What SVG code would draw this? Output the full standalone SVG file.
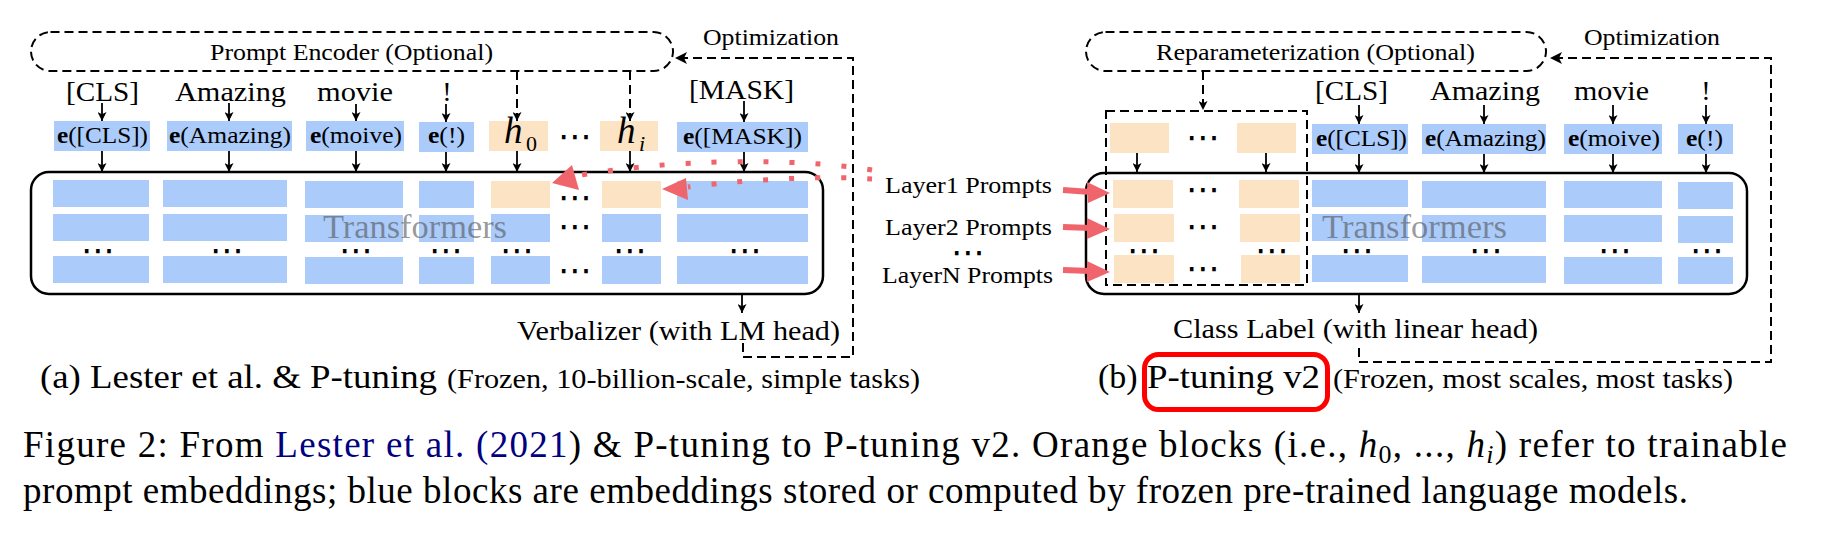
<svg xmlns="http://www.w3.org/2000/svg" width="1832" height="552" viewBox="0 0 1832 552">
<defs>
<style>
.t{font-family:"Liberation Serif","Times New Roman",serif;fill:#000}
.blue{fill:#ABCBFA}
.org{fill:#FCE3C4}
.dash{fill:none;stroke:#000;stroke-width:2;stroke-dasharray:9 5}
.ln{fill:none;stroke:#000;stroke-width:1.8}
.tf{fill:none;stroke:#000;stroke-width:2.5}
.tr{font-family:"Liberation Serif","Times New Roman",serif;font-size:33px;fill:#555;fill-opacity:0.6}
.dots{font-family:"DejaVu Sans",sans-serif;font-size:34px;text-anchor:middle;fill:#000}
.reddot{fill:none;stroke:#F0646C;stroke-width:5;stroke-dasharray:5 21}
.redfill{fill:#F0646C}
.redln{stroke:#F0646C;stroke-width:6;fill:none}
.it{font-style:italic}
.nav{fill:#000080}
</style>
<marker id="ah" viewBox="0 0 10 10" refX="10" refY="5" markerWidth="9" markerHeight="9" markerUnits="userSpaceOnUse" orient="auto"><path d="M0,0 L10,5 L0,10 L2.5,5 z" fill="#000"/></marker>
<marker id="ahL" viewBox="0 0 10 10" refX="10" refY="5" markerWidth="14" markerHeight="12" markerUnits="userSpaceOnUse" orient="auto"><path d="M0,0 L10,5 L0,10 L2.5,5 z" fill="#000"/></marker>
</defs>
<rect width="1832" height="552" fill="#fff"/>

<!-- ============ Panel (a) ============ -->
<g id="a-prompt-encoder">
<rect x="31" y="32" width="642" height="39" rx="19.5" class="dash"/>
<text class="t" x="210" y="60" font-size="24" textLength="283" lengthAdjust="spacingAndGlyphs">Prompt Encoder (Optional)</text>
</g>
<g id="a-optimization-label"><text class="t" x="703" y="45" font-size="23" textLength="136" lengthAdjust="spacingAndGlyphs">Optimization</text></g>

<g id="a-tokens">
<text class="t" x="66" y="101" font-size="28" textLength="73" lengthAdjust="spacingAndGlyphs">[CLS]</text>
<text class="t" x="175" y="101" font-size="28" textLength="111" lengthAdjust="spacingAndGlyphs">Amazing</text>
<text class="t" x="317" y="101" font-size="28" textLength="76" lengthAdjust="spacingAndGlyphs">movie</text>
<text class="t" x="447" y="101" font-size="28" text-anchor="middle">!</text>
<text class="t" x="689" y="99" font-size="28" textLength="105" lengthAdjust="spacingAndGlyphs">[MASK]</text>
</g>

<g id="a-embeddings">
<g id="a-e-cls"><rect class="blue" x="54" y="121" width="96" height="30"/><text class="t" x="57" y="143" font-size="24" textLength="91" lengthAdjust="spacingAndGlyphs"><tspan font-weight="bold">e</tspan>([CLS])</text></g>
<g id="a-e-amazing"><rect class="blue" x="167" y="121" width="125" height="30"/><text class="t" x="169" y="143" font-size="24" textLength="122" lengthAdjust="spacingAndGlyphs"><tspan font-weight="bold">e</tspan>(Amazing)</text></g>
<g id="a-e-moive"><rect class="blue" x="306" y="121" width="98" height="30"/><text class="t" x="310" y="143" font-size="24" textLength="92" lengthAdjust="spacingAndGlyphs"><tspan font-weight="bold">e</tspan>(moive)</text></g>
<g id="a-e-excl"><rect class="blue" x="419" y="122" width="55" height="30"/><text class="t" x="428" y="143" font-size="24" textLength="37" lengthAdjust="spacingAndGlyphs"><tspan font-weight="bold">e</tspan>(!)</text></g>
<g id="a-h0"><rect class="org" x="489" y="121" width="59" height="30"/><text class="t it" x="504" y="143" font-size="37">h</text><text class="t" x="526" y="151" font-size="22">0</text></g>
<text class="dots" x="575" y="148">⋯</text>
<g id="a-hi"><rect class="org" x="600" y="121" width="58" height="30"/><text class="t it" x="617" y="143" font-size="37">h</text><text class="t it" x="639" y="151" font-size="22">i</text></g>
<g id="a-e-mask"><rect class="blue" x="677" y="122" width="131" height="30"/><text class="t" x="683" y="144" font-size="24" textLength="119" lengthAdjust="spacingAndGlyphs"><tspan font-weight="bold">e</tspan>([MASK])</text></g>
</g>

<g id="a-transformer">
<g class="blue">
<rect x="53" y="180" width="96" height="27"/><rect x="53" y="214" width="96" height="27"/><rect x="53" y="256" width="96" height="27"/>
<rect x="163" y="180" width="124" height="27"/><rect x="163" y="214" width="124" height="27"/><rect x="163" y="256" width="124" height="27"/>
<rect x="305" y="181" width="98" height="27"/><rect x="305" y="215" width="98" height="27"/><rect x="305" y="257" width="98" height="27"/>
<rect x="419" y="181" width="55" height="27"/><rect x="419" y="215" width="55" height="27"/><rect x="419" y="257" width="55" height="27"/>
<rect x="491" y="214" width="59" height="28"/><rect x="491" y="256" width="59" height="28"/>
<rect x="602" y="214" width="59" height="28"/><rect x="602" y="256" width="59" height="28"/>
<rect x="677" y="181" width="131" height="27"/><rect x="677" y="214" width="131" height="28"/><rect x="677" y="256" width="131" height="28"/>
</g>
<rect class="org" x="491" y="181" width="59" height="27"/>
<rect class="org" x="602" y="181" width="59" height="27"/>
<rect class="tf" x="31" y="172" width="792" height="122" rx="18"/>
<text class="tr" x="323" y="238" textLength="184" lengthAdjust="spacingAndGlyphs">Transformers</text>
<text class="dots" x="575" y="209">⋯</text>
<text class="dots" x="575" y="238">⋯</text>
<text class="dots" x="575" y="282">⋯</text>
<text class="dots" x="98" y="262">⋯</text>
<text class="dots" x="227" y="262">⋯</text>
<text class="dots" x="356" y="262">⋯</text>
<text class="dots" x="446" y="262">⋯</text>
<text class="dots" x="517" y="262">⋯</text>
<text class="dots" x="630" y="262">⋯</text>
<text class="dots" x="745" y="262">⋯</text>
</g>

<g id="a-verbalizer"><text class="t" x="517" y="340" font-size="27.5" textLength="323" lengthAdjust="spacingAndGlyphs">Verbalizer (with LM head)</text></g>

<!-- ============ Panel (b) ============ -->
<g id="b-reparameterization">
<rect x="1086" y="32" width="460" height="39" rx="19.5" class="dash"/>
<text class="t" x="1156" y="60" font-size="24" textLength="319" lengthAdjust="spacingAndGlyphs">Reparameterization (Optional)</text>
</g>
<g id="b-optimization-label"><text class="t" x="1584" y="45" font-size="23" textLength="136" lengthAdjust="spacingAndGlyphs">Optimization</text></g>

<g id="b-tokens">
<text class="t" x="1315" y="100" font-size="28" textLength="73" lengthAdjust="spacingAndGlyphs">[CLS]</text>
<text class="t" x="1430" y="100" font-size="28" textLength="110" lengthAdjust="spacingAndGlyphs">Amazing</text>
<text class="t" x="1574" y="100" font-size="28" textLength="75" lengthAdjust="spacingAndGlyphs">movie</text>
<text class="t" x="1706" y="100" font-size="28" text-anchor="middle">!</text>
</g>

<g id="b-prompts">
<rect class="org" x="1110" y="123" width="59" height="30"/>
<text class="dots" x="1203" y="149">⋯</text>
<rect class="org" x="1237" y="123" width="59" height="30"/>
</g>

<g id="b-embeddings">
<g id="b-e-cls"><rect class="blue" x="1312" y="124" width="96" height="30"/><text class="t" x="1316" y="146" font-size="24" textLength="91" lengthAdjust="spacingAndGlyphs"><tspan font-weight="bold">e</tspan>([CLS])</text></g>
<g id="b-e-amazing"><rect class="blue" x="1422" y="124" width="124" height="30"/><text class="t" x="1425" y="146" font-size="24" textLength="121" lengthAdjust="spacingAndGlyphs"><tspan font-weight="bold">e</tspan>(Amazing)</text></g>
<g id="b-e-moive"><rect class="blue" x="1564" y="124" width="98" height="30"/><text class="t" x="1568" y="146" font-size="24" textLength="92" lengthAdjust="spacingAndGlyphs"><tspan font-weight="bold">e</tspan>(moive)</text></g>
<g id="b-e-excl"><rect class="blue" x="1678" y="124" width="55" height="30"/><text class="t" x="1686" y="146" font-size="24" textLength="37" lengthAdjust="spacingAndGlyphs"><tspan font-weight="bold">e</tspan>(!)</text></g>
</g>

<g id="b-layer-labels">
<text class="t" x="885" y="193" font-size="24" textLength="167" lengthAdjust="spacingAndGlyphs">Layer1 Prompts</text>
<text class="t" x="885" y="235" font-size="24" textLength="167" lengthAdjust="spacingAndGlyphs">Layer2 Prompts</text>
<text class="dots" x="968" y="264">⋯</text>
<text class="t" x="882" y="283" font-size="24" textLength="171" lengthAdjust="spacingAndGlyphs">LayerN Prompts</text>
</g>

<g id="b-transformer">
<g class="org">
<rect x="1113" y="180" width="60" height="28"/><rect x="1114" y="214" width="60" height="28"/><rect x="1114" y="255" width="60" height="28"/>
<rect x="1239" y="180" width="60" height="28"/><rect x="1240" y="214" width="60" height="28"/><rect x="1241" y="255" width="59" height="28"/>
</g>
<g class="blue">
<rect x="1312" y="180" width="96" height="27"/><rect x="1312" y="214" width="96" height="27"/><rect x="1312" y="255" width="96" height="27"/>
<rect x="1422" y="181" width="124" height="27"/><rect x="1422" y="215" width="124" height="27"/><rect x="1422" y="256" width="124" height="27"/>
<rect x="1564" y="181" width="98" height="27"/><rect x="1564" y="215" width="98" height="27"/><rect x="1564" y="257" width="98" height="27"/>
<rect x="1678" y="182" width="55" height="27"/><rect x="1678" y="216" width="55" height="27"/><rect x="1678" y="257" width="55" height="27"/>
</g>
<rect class="tf" x="1086" y="173" width="661" height="121" rx="18"/>
<rect class="dash" x="1106" y="111" width="201" height="174"/>
<text class="tr" x="1322" y="238" textLength="185" lengthAdjust="spacingAndGlyphs">Transformers</text>
<text class="dots" x="1203" y="201">⋯</text>
<text class="dots" x="1203" y="238">⋯</text>
<text class="dots" x="1203" y="280">⋯</text>
<text class="dots" x="1144" y="262">⋯</text>
<text class="dots" x="1272" y="262">⋯</text>
<text class="dots" x="1357" y="262">⋯</text>
<text class="dots" x="1486" y="262">⋯</text>
<text class="dots" x="1615" y="262">⋯</text>
<text class="dots" x="1707" y="262">⋯</text>
</g>

<g id="b-class-label"><text class="t" x="1173" y="338" font-size="28" textLength="365" lengthAdjust="spacingAndGlyphs">Class Label (with linear head)</text></g>

<!-- ============ Connectors ============ -->
<g id="connectors">
<line class="ln" x1="102" y1="103" x2="102" y2="121" marker-end="url(#ah)"/>
<line class="ln" x1="229" y1="103" x2="229" y2="121" marker-end="url(#ah)"/>
<line class="ln" x1="356" y1="104" x2="356" y2="121" marker-end="url(#ah)"/>
<line class="ln" x1="446" y1="104" x2="446" y2="122" marker-end="url(#ah)"/>
<line class="ln" x1="744" y1="101" x2="744" y2="122" marker-end="url(#ah)"/>
<line class="ln" x1="102" y1="151" x2="102" y2="172" marker-end="url(#ah)"/>
<line class="ln" x1="229" y1="151" x2="229" y2="172" marker-end="url(#ah)"/>
<line class="ln" x1="356" y1="151" x2="356" y2="172" marker-end="url(#ah)"/>
<line class="ln" x1="446" y1="152" x2="446" y2="172" marker-end="url(#ah)"/>
<line class="ln" x1="517" y1="151" x2="517" y2="172" marker-end="url(#ah)"/>
<line class="ln" x1="630" y1="151" x2="630" y2="172" marker-end="url(#ah)"/>
<line class="ln" x1="744" y1="152" x2="744" y2="172" marker-end="url(#ah)"/>
<line class="ln" x1="742" y1="294" x2="742" y2="313" marker-end="url(#ah)"/>
<line class="dash" x1="517" y1="71" x2="517" y2="121" marker-end="url(#ah)"/>
<line class="dash" x1="630" y1="71" x2="630" y2="121" marker-end="url(#ah)"/>
<path class="dash" d="M743 343 V357 H853 V58 H675" marker-end="url(#ahL)"/>
<path class="reddot" d="M872 170 C820 161 700 155 581 175"/>
<polygon class="redfill" points="552,183 572,165 579,190"/>
<path class="reddot" d="M872 179 C830 176 760 178 688 187"/>
<polygon class="redfill" points="662,189 686,178 688,200"/>
<line class="ln" x1="1359" y1="105" x2="1359" y2="124" marker-end="url(#ah)"/>
<line class="ln" x1="1484" y1="105" x2="1484" y2="124" marker-end="url(#ah)"/>
<line class="ln" x1="1613" y1="105" x2="1613" y2="124" marker-end="url(#ah)"/>
<line class="ln" x1="1706" y1="105" x2="1706" y2="124" marker-end="url(#ah)"/>
<line class="ln" x1="1359" y1="154" x2="1359" y2="173" marker-end="url(#ah)"/>
<line class="ln" x1="1484" y1="154" x2="1484" y2="173" marker-end="url(#ah)"/>
<line class="ln" x1="1613" y1="154" x2="1613" y2="173" marker-end="url(#ah)"/>
<line class="ln" x1="1706" y1="154" x2="1706" y2="173" marker-end="url(#ah)"/>
<line class="ln" x1="1137" y1="153" x2="1137" y2="172" marker-end="url(#ah)"/>
<line class="ln" x1="1266" y1="153" x2="1266" y2="172" marker-end="url(#ah)"/>
<line class="ln" x1="1359" y1="294" x2="1359" y2="313" marker-end="url(#ah)"/>
<line class="dash" x1="1203" y1="71" x2="1203" y2="110" marker-end="url(#ah)"/>
<path class="dash" d="M1359 348 V362 H1771 V58 H1550" marker-end="url(#ahL)"/>
<line class="redln" x1="1063" y1="190" x2="1091" y2="192"/>
<polygon class="redfill" points="1087,182 1110,193 1088,203"/>
<line class="redln" x1="1063" y1="227" x2="1091" y2="228"/>
<polygon class="redfill" points="1087,218 1110,229 1087,239"/>
<line class="redln" x1="1063" y1="270" x2="1091" y2="271"/>
<polygon class="redfill" points="1087,261 1110,272 1087,282"/>
</g>

<!-- ============ Sub-captions ============ -->
<g id="a-caption">
<text class="t" x="40" y="388" font-size="34" textLength="397" lengthAdjust="spacingAndGlyphs">(a) Lester et al. &amp; P-tuning</text>
<text class="t" x="447" y="388" font-size="28" textLength="473" lengthAdjust="spacingAndGlyphs">(Frozen, 10-billion-scale, simple tasks)</text>
</g>
<g id="b-caption">
<text class="t" x="1098" y="388" font-size="34">(b)</text>
<rect x="1144.5" y="354.5" width="183" height="55" rx="14" fill="none" stroke="#FF0000" stroke-width="5"/>
<text class="t" x="1147" y="388" font-size="34" textLength="173" lengthAdjust="spacingAndGlyphs">P-tuning v2</text>
<text class="t" x="1333" y="388" font-size="28" textLength="400" lengthAdjust="spacingAndGlyphs">(Frozen, most scales, most tasks)</text>
</g>

<g id="figure-caption">
<text class="t" x="23" y="457" font-size="37" textLength="1764" lengthAdjust="spacing">Figure 2:  From <tspan class="nav">Lester et al.</tspan> <tspan class="nav">(2021</tspan>) &amp; P-tuning to P-tuning v2.  Orange blocks (i.e., <tspan class="it">h</tspan><tspan font-size="26" dy="6">0</tspan><tspan dy="-6">, ..., </tspan><tspan class="it">h</tspan><tspan class="it" font-size="26" dy="6">i</tspan><tspan dy="-6">) refer to trainable</tspan></text>
<text class="t" x="23" y="503" font-size="37" textLength="1665" lengthAdjust="spacing">prompt embeddings; blue blocks are embeddings stored or computed by frozen pre-trained language models.</text>
</g>
</svg>
